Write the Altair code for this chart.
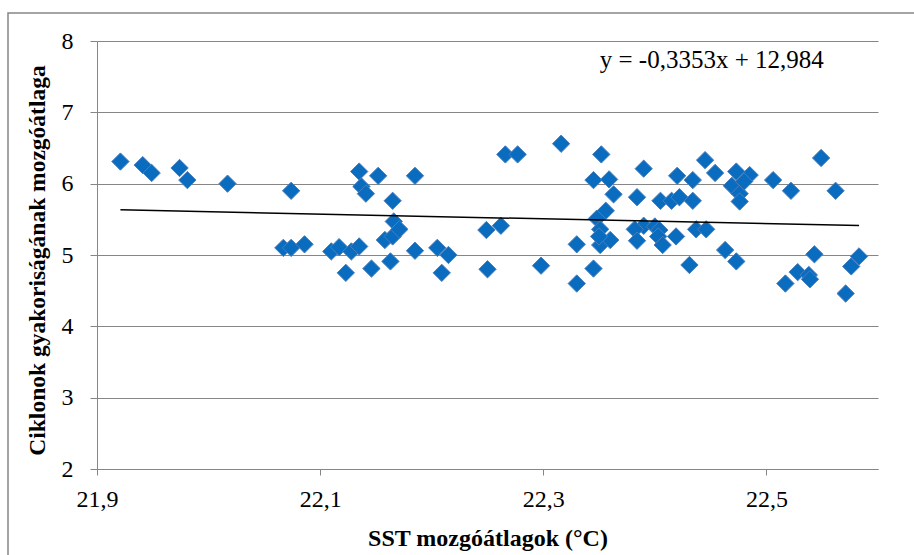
import altair as alt
import pandas as pd

# SST moving averages (°C) and cyclone frequency moving averages
sst = [21.921, 21.941, 21.949, 21.974, 21.981, 22.017, 22.074, 22.067, 22.074, 22.086,
       22.110, 22.117, 22.123, 22.128, 22.135, 22.135, 22.137, 22.141, 22.146, 22.152,
       22.158, 22.165, 22.165, 22.166, 22.171, 22.163, 22.185, 22.185, 22.205, 22.215,
       22.209, 22.249, 22.262, 22.250, 22.266, 22.277, 22.298, 22.316, 22.330, 22.330,
       22.345, 22.352, 22.345, 22.359, 22.363, 22.356, 22.348, 22.351, 22.351, 22.360,
       22.350, 22.390, 22.384, 22.405, 22.415, 22.422, 22.434, 22.420, 22.434, 22.445,
       22.454, 22.390, 22.382, 22.384, 22.400, 22.404, 22.403, 22.407, 22.419, 22.437,
       22.446, 22.431, 22.469, 22.473, 22.476, 22.476, 22.485, 22.480, 22.463, 22.473,
       22.506, 22.522, 22.549, 22.562, 22.543, 22.517, 22.528, 22.538, 22.539, 22.571,
       22.576, 22.583]
freq = [6.31, 6.26, 6.15, 6.22, 6.05, 6.00, 5.90, 5.10, 5.10, 5.15,
        5.05, 5.11, 4.75, 5.05, 5.12, 6.17, 5.96, 5.86, 4.81, 6.11,
        5.21, 5.26, 5.76, 5.47, 5.36, 4.91, 6.11, 5.06, 5.10, 5.00,
        4.75, 5.35, 5.41, 4.80, 6.41, 6.41, 4.85, 6.56, 5.15, 4.60,
        4.81, 6.41, 6.05, 6.06, 5.85, 5.62, 5.51, 5.36, 5.14, 5.21,
        5.26, 6.21, 5.81, 5.76, 5.76, 5.81, 5.76, 6.11, 6.05, 6.33,
        6.15, 5.41, 5.36, 5.20, 5.40, 5.35, 5.26, 5.14, 5.26, 5.36,
        5.36, 4.86, 5.97, 6.17, 5.86, 5.75, 6.12, 6.03, 5.07, 4.91,
        6.05, 5.90, 6.36, 5.90, 5.01, 4.60, 4.76, 4.72, 4.66, 4.46,
        4.84, 4.98]

slope = -0.3353
intercept = 12.984
eq_label = "y = -0,3353x + 12,984"
eq_x = [22.451]
eq_y = [7.73]

x_ticks = [21.9, 22.1, 22.3, 22.5]
y_ticks = [2, 3, 4, 5, 6, 7, 8]

FONT = "Liberation Serif"
GRAY = "#868686"

df = pd.DataFrame({"sst": sst, "freq": freq})
xs = [min(sst), max(sst)]
trend = pd.DataFrame({"sst": xs, "freq": [slope * v + intercept for v in xs]})
eq = pd.DataFrame({"sst": eq_x, "freq": eq_y, "label": [eq_label]})
frame = pd.DataFrame({"k": [0]})

xscale = alt.Scale(domain=[21.9, 22.6], nice=False, zero=False)
yscale = alt.Scale(domain=[2, 8], nice=False, zero=False)

xaxis = alt.Axis(
    title="SST mozgóátlagok (°C)", values=x_ticks,
    labelExpr="replace(format(datum.value, '.1f'), '.', ',')",
    grid=False, domainColor=GRAY, tickColor=GRAY, tickSize=6,
    labelPadding=12, labelFontSize=24, labelFont=FONT, labelColor="black",
    labelFlush=False, labelOverlap=False,
    titleFont=FONT, titleFontSize=24, titleFontWeight="bold", titleColor="black",
    titleY=69, titleBaseline="middle",
)
yaxis = alt.Axis(
    title="Ciklonok gyakoriságának mozgóátlaga", values=y_ticks,
    labelExpr="replace(format(datum.value, 'd'), '.', ',')",
    grid=True, gridColor=GRAY, gridWidth=1,
    domainColor=GRAY, tickColor=GRAY, tickSize=7,
    labelPadding=17, labelFontSize=24, labelFont=FONT, labelColor="black",
    labelFlush=False, labelOverlap=False,
    titleFont=FONT, titleFontSize=23.5, titleFontWeight="bold", titleColor="black",
    titleAngle=-90, titleX=-60, titleY=219, titleAlign="center", titleBaseline="middle",
)

border = alt.Chart(frame).mark_rect(filled=False, stroke=GRAY, strokeWidth=1.5, clip=False).encode(
    x=alt.value(-89), x2=alt.value(830), y=alt.value(-28), y2=alt.value(620)
)

points = alt.Chart(df).mark_point(
    shape="diamond", filled=True, size=300, fill="#0A6CBF", stroke="#4A7EBB",
    strokeWidth=1, opacity=1
).encode(
    x=alt.X("sst:Q", scale=xscale, axis=xaxis),
    y=alt.Y("freq:Q", scale=yscale, axis=yaxis),
)

line = alt.Chart(trend).mark_line(color="black", strokeWidth=1.5).encode(
    x=alt.X("sst:Q", scale=xscale),
    y=alt.Y("freq:Q", scale=yscale),
)

text = alt.Chart(eq).mark_text(font=FONT, fontSize=25, color="black", align="center", baseline="middle").encode(
    x=alt.X("sst:Q", scale=xscale),
    y=alt.Y("freq:Q", scale=yscale),
    text="label:N",
)

chart = alt.layer(border, points, line, text).properties(
    width=781, height=428,
    autosize=alt.AutoSizeParams(type="none"),
    padding={"left": 97, "top": 41, "right": 36, "bottom": 86},
    background="white",
).configure_view(stroke=None)

chart.save("out.html", embed_options={"renderer": "svg", "actions": False})
